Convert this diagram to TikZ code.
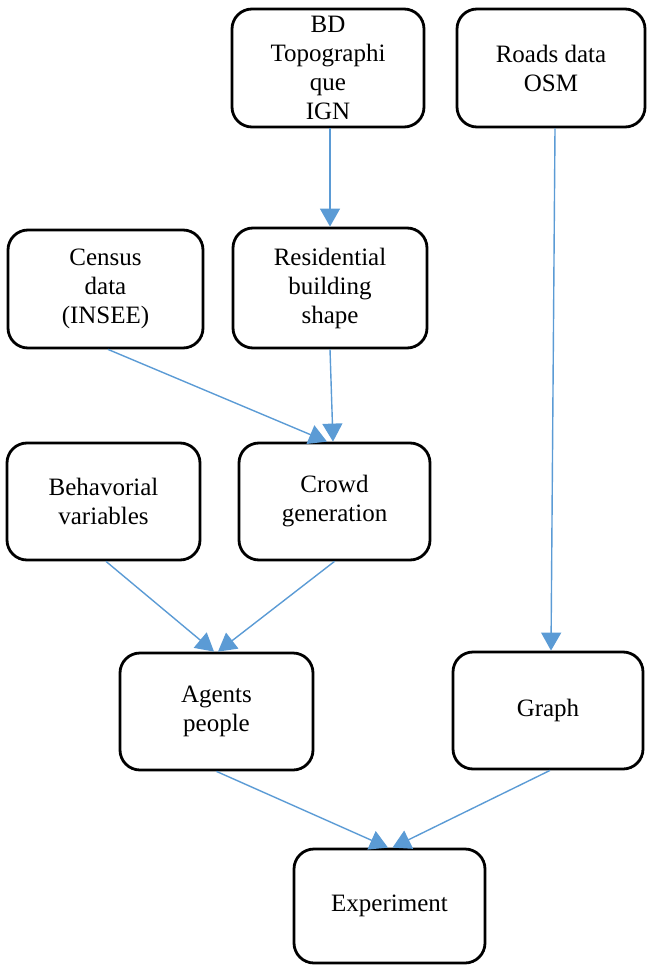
\documentclass[tikz,border=0pt]{standalone}
\usepackage{fontspec}
\setmainfont{Liberation Serif}
\usetikzlibrary{arrows.meta,calc}
\definecolor{arrowblue}{HTML}{5B9BD5}
\begin{document}
\begin{tikzpicture}[x=1pt,y=-1pt,
  box/.style={draw=black, line width=2.8pt, rounded corners=20pt, align=center,
    font=\fontsize{25}{29}\selectfont, inner sep=0pt, anchor=center},
  link/.style={draw=arrowblue, line width=1.4pt, -{Triangle[length=18pt,width=20pt]}}]
\useasboundingbox (0,0) rectangle (647,965);
\node[box, minimum width=192pt, minimum height=118pt] (bd) at (328,68) {BD\\Topographi\\que\\IGN};
\node[box, minimum width=188pt, minimum height=118pt] (roads) at (551,68) {Roads data\\OSM};
\node[box, minimum width=195pt, minimum height=118pt] (census) at (105.5,289) {Census\\data\\(INSEE)};
\node[box, minimum width=194pt, minimum height=120pt] (res) at (330,288) {Residential\\building\\shape};
\node[box, minimum width=193pt, minimum height=117pt] (beh) at (103.5,501.5) {Behavorial\\variables};
\node[box, minimum width=191pt, minimum height=117pt] (crowd) at (334.5,501.5) {Crowd\\generation};
\node[box, minimum width=193pt, minimum height=117pt] (agents) at (216.5,711.5) {Agents\\people};
\node[box, minimum width=190pt, minimum height=117pt] (graph) at (548,710.5) {Graph};
\node[box, minimum width=191pt, minimum height=114pt] (exp) at (389.5,906) {Experiment};

\draw[link] ($(bd.south)+(2,0)$) -- (res.north);
\draw[link] ($(roads.south)+(4,0)$) -- ($(graph.north)+(3,0)$);
\draw[link] ($(census.south)+(2.5,0)$) -- ($(crowd.north)+(-7.5,0)$);
\draw[link] (res.south) -- ($(crowd.north)+(-1.5,0)$);
\draw[link] ($(beh.south)+(2.5,0)$) -- ($(agents.north)+(-2.5,0)$);
\draw[link] (crowd.south) -- ($(agents.north)+(1.5,0)$);
\draw[link] (agents.south) -- ($(exp.north)+(-1.5,0)$);
\draw[link] ($(graph.south)+(2,0)$) -- ($(exp.north)+(3,0)$);
\end{tikzpicture}
\end{document}
